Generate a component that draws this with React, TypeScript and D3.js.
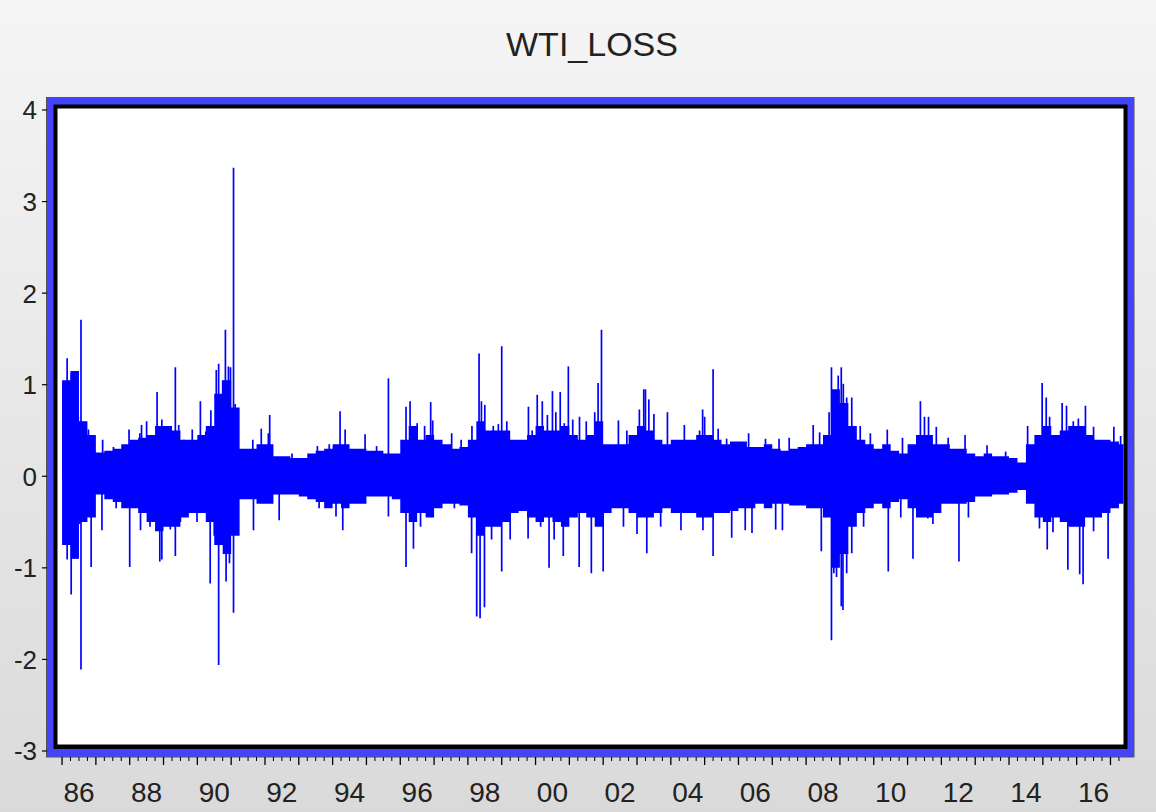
import React from 'react';
import * as d3 from 'd3';

// ---------- data ----------
// dense band envelope, one entry per quarter starting 1986Q1
const bandStartYear = 1986;
const bandStep = 0.25;
const bandHi = [
  1.05, 1.15, 0.60, 0.45, 0.26, 0.28, 0.30, 0.35, 0.40, 0.42, 0.45, 0.55,
  0.55, 0.50, 0.40, 0.40, 0.45, 0.55, 0.90, 1.05, 0.75, 0.30, 0.30, 0.35,
  0.35, 0.22, 0.22, 0.20, 0.20, 0.25, 0.28, 0.30, 0.35, 0.35, 0.30, 0.30,
  0.28, 0.28, 0.25, 0.25, 0.40, 0.55, 0.40, 0.45, 0.40, 0.35, 0.30, 0.32,
  0.40, 0.60, 0.50, 0.50, 0.50, 0.40, 0.40, 0.45, 0.55, 0.50, 0.50, 0.55,
  0.45, 0.40, 0.45, 0.60, 0.35, 0.35, 0.35, 0.45, 0.55, 0.50, 0.40, 0.35,
  0.40, 0.40, 0.40, 0.45, 0.45, 0.40, 0.35, 0.38, 0.38, 0.32, 0.32, 0.35,
  0.30, 0.28, 0.30, 0.32, 0.35, 0.35, 0.45, 0.95, 0.80, 0.55, 0.40, 0.35,
  0.30, 0.35, 0.28, 0.25, 0.35, 0.45, 0.45, 0.35, 0.35, 0.30, 0.30, 0.25,
  0.22, 0.25, 0.22, 0.22, 0.20, 0.15, 0.35, 0.45, 0.55, 0.45, 0.50, 0.55,
  0.55, 0.45, 0.40, 0.40, 0.38, 0.35,
];
const bandLo = [
  -0.75, -0.90, -0.50, -0.45, -0.20, -0.25, -0.28, -0.35, -0.35, -0.40, -0.50, -0.60,
  -0.55, -0.55, -0.45, -0.40, -0.40, -0.50, -0.75, -0.85, -0.65, -0.25, -0.25, -0.30,
  -0.30, -0.20, -0.20, -0.20, -0.22, -0.25, -0.28, -0.35, -0.30, -0.35, -0.30, -0.30,
  -0.22, -0.22, -0.22, -0.25, -0.40, -0.50, -0.40, -0.45, -0.35, -0.30, -0.30, -0.32,
  -0.45, -0.65, -0.55, -0.55, -0.50, -0.40, -0.38, -0.45, -0.50, -0.45, -0.50, -0.55,
  -0.45, -0.40, -0.45, -0.55, -0.40, -0.35, -0.35, -0.40, -0.45, -0.45, -0.40, -0.35,
  -0.40, -0.40, -0.40, -0.45, -0.45, -0.40, -0.40, -0.38, -0.35, -0.35, -0.30, -0.35,
  -0.30, -0.30, -0.32, -0.32, -0.35, -0.35, -0.45, -1.00, -0.85, -0.55, -0.40, -0.35,
  -0.30, -0.35, -0.28, -0.25, -0.35, -0.45, -0.45, -0.40, -0.30, -0.30, -0.30, -0.28,
  -0.22, -0.22, -0.20, -0.20, -0.18, -0.15, -0.30, -0.45, -0.50, -0.45, -0.50, -0.55,
  -0.55, -0.45, -0.45, -0.40, -0.35, -0.30,
];

// isolated spikes: [year, value]
const upperSpikes: [number, number][] = [
  [1986.03, 1.02], [1986.15, 1.29], [1986.27, 1.13], [1986.41, 1.13], [1986.48, 0.65],
  [1986.56, 1.71], [1986.68, 0.56], [1986.78, 0.51], [1986.88, 0.40], [1987.2, 0.40],
  [1987.52, 0.32], [1987.98, 0.51], [1988.3, 0.47], [1988.35, 0.56], [1988.5, 0.60],
  [1988.81, 0.92], [1988.95, 0.62], [1989.06, 0.47], [1989.35, 1.19], [1989.45, 0.56],
  [1989.6, 0.40], [1989.85, 0.51], [1990.09, 0.82], [1990.25, 0.49], [1990.4, 0.72],
  [1990.56, 1.16], [1990.63, 1.23], [1990.75, 1.05], [1990.83, 1.60], [1990.92, 1.20],
  [1990.98, 1.19], [1991.07, 3.37], [1991.12, 0.79], [1991.2, 0.47], [1991.64, 0.40],
  [1991.89, 0.52], [1992.1, 0.47], [1992.14, 0.67], [1992.8, 0.25], [1993.55, 0.33],
  [1993.9, 0.35], [1994.22, 0.71], [1994.37, 0.51], [1994.96, 0.46], [1995.3, 0.33],
  [1995.65, 1.07], [1996.17, 0.76], [1996.29, 0.82], [1996.5, 0.58], [1996.72, 0.55],
  [1996.9, 0.81], [1996.96, 0.61], [1997.52, 0.47], [1997.8, 0.40], [1998.12, 0.55],
  [1998.33, 1.34], [1998.4, 0.82], [1998.5, 0.78], [1998.75, 0.55], [1998.9, 0.57],
  [1999.0, 1.42], [1999.15, 0.60], [1999.79, 0.76], [1999.9, 0.50], [2000.05, 0.89],
  [2000.2, 0.82], [2000.35, 0.67], [2000.5, 0.93], [2000.6, 0.70], [2000.73, 0.92],
  [2000.85, 0.58], [2000.97, 1.20], [2001.1, 0.62], [2001.3, 0.65], [2001.5, 0.60],
  [2001.75, 0.70], [2001.85, 1.02], [2001.95, 1.60], [2002.45, 0.61], [2002.7, 0.50],
  [2003.07, 0.73], [2003.2, 0.95], [2003.25, 0.95], [2003.35, 0.84], [2003.5, 0.68],
  [2003.9, 0.70], [2004.4, 0.56], [2004.85, 0.50], [2004.94, 0.73], [2005.0, 0.65],
  [2005.25, 1.17], [2005.4, 0.52], [2005.65, 0.41], [2006.3, 0.47], [2006.8, 0.41],
  [2007.2, 0.41], [2007.5, 0.42], [2008.21, 0.56], [2008.4, 0.48], [2008.68, 0.70],
  [2008.75, 1.19], [2008.85, 0.91], [2008.95, 1.10], [2009.04, 1.19], [2009.1, 1.01],
  [2009.2, 0.86], [2009.35, 0.86], [2009.6, 0.55], [2009.9, 0.47], [2010.4, 0.51],
  [2010.85, 0.42], [2011.38, 0.82], [2011.5, 0.65], [2011.62, 0.65], [2011.85, 0.54],
  [2012.2, 0.42], [2012.7, 0.45], [2013.35, 0.34], [2013.9, 0.27], [2014.55, 0.55],
  [2014.98, 1.02], [2015.1, 0.86], [2015.2, 0.65], [2015.57, 0.80], [2015.7, 0.77],
  [2015.9, 0.60], [2016.05, 0.63], [2016.26, 0.77], [2016.5, 0.54], [2017.1, 0.54],
  [2017.3, 0.44],
];
const lowerSpikes: [number, number][] = [
  [1986.05, -0.73], [1986.15, -0.91], [1986.27, -1.29], [1986.36, -0.90], [1986.45, -0.90],
  [1986.52, -0.52], [1986.56, -2.11], [1986.62, -0.48], [1986.86, -0.99], [1987.18, -0.59],
  [1987.6, -0.35], [1988.0, -0.99], [1988.32, -0.59], [1988.6, -0.55], [1988.89, -0.93],
  [1988.95, -0.91], [1989.2, -0.58], [1989.35, -0.87], [1989.5, -0.50], [1989.99, -0.50],
  [1990.15, -0.40], [1990.38, -1.17], [1990.5, -0.65], [1990.63, -2.06], [1990.7, -0.73],
  [1990.85, -1.15], [1990.95, -0.95], [1991.07, -1.49], [1991.66, -0.59], [1992.42, -0.48],
  [1993.6, -0.35], [1994.1, -0.44], [1994.3, -0.59], [1995.65, -0.44], [1996.17, -0.99],
  [1996.39, -0.79], [1996.6, -0.55], [1997.6, -0.35], [1998.11, -0.84], [1998.26, -1.53],
  [1998.36, -1.55], [1998.49, -1.43], [1998.7, -0.69], [1999.0, -1.04], [1999.25, -0.69],
  [1999.78, -0.68], [2000.15, -0.55], [2000.4, -1.0], [2000.55, -0.69], [2000.82, -0.87],
  [2001.29, -0.99], [2001.65, -1.06], [2002.0, -1.04], [2002.6, -0.55], [2003.0, -0.63],
  [2003.29, -0.84], [2003.7, -0.55], [2004.3, -0.59], [2004.95, -0.59], [2005.25, -0.87],
  [2005.8, -0.67], [2006.2, -0.59], [2006.4, -0.62], [2007.1, -0.58], [2007.3, -0.59],
  [2008.45, -0.82], [2008.75, -1.79], [2008.82, -1.06], [2008.9, -1.10], [2009.04, -1.42],
  [2009.09, -1.46], [2009.2, -1.06], [2009.35, -0.84], [2009.7, -0.55], [2010.43, -1.04],
  [2010.8, -0.45], [2011.16, -0.90], [2011.6, -0.46], [2011.75, -0.52], [2012.52, -0.93],
  [2012.8, -0.45], [2014.9, -0.57], [2015.13, -0.80], [2015.3, -0.61], [2015.74, -1.02],
  [2016.09, -1.07], [2016.19, -1.18], [2016.5, -0.60], [2016.93, -0.90],
];

const yTicks = [4, 3, 2, 1, 0, -1, -2, -3];
const labelYears = [1986, 1988, 1990, 1992, 1994, 1996, 1998, 2000, 2002, 2004, 2006, 2008, 2010, 2012, 2014, 2016];
const xTickLabels = ['86', '88', '90', '92', '94', '96', '98', '00', '02', '04', '06', '08', '10', '12', '14', '16'];
const title = 'WTI_LOSS';

// ---------- layout ----------
const W = 1156;
const H = 812;
const inner = { x0: 57.5, x1: 1123.5, y0: 108.5, y1: 744.5 };
const xDomain: [number, number] = [1985.88, 2017.385];
const FONT = "'Liberation Sans', Arial, sans-serif";
const BLUE = '#0000ff';

export default function App() {
  const x = d3.scaleLinear().domain(xDomain).range([inner.x0 + 0.5, inner.x1]);
  const y = d3.scaleLinear().domain([-3, 4]).range([751, 110]);

  const pts = bandHi.map((hi, i) => ({ t: bandStartYear + i * bandStep, hi, lo: bandLo[i] }));
  pts.push({ t: xDomain[1] + 0.1, hi: bandHi[bandHi.length - 1], lo: bandLo[bandLo.length - 1] });
  const area = d3
    .area<{ t: number; hi: number; lo: number }>()
    .x((d) => x(d.t))
    .y0((d) => y(d.lo))
    .y1((d) => y(d.hi))
    .curve(d3.curveStepAfter);

  const yearTicks = d3.range(1986, 2018).filter((t) => t <= xDomain[1]);
  const quarterTicks = d3.range(1986, 2017.5, 0.25).filter((t) => t % 1 !== 0 && t <= xDomain[1]);

  const spikes = [...upperSpikes, ...lowerSpikes];

  return (
    <svg width={W} height={H} style={{ position: 'absolute', left: 0, top: 0 }} fontFamily={FONT}>
      <defs>
        <linearGradient id="bg" x1="0" y1="0" x2="0" y2="1">
          <stop offset="0" stopColor="#f5f5f5" />
          <stop offset="1" stopColor="#dadada" />
        </linearGradient>
        <clipPath id="plotClip">
          <rect x={inner.x0} y={inner.y0} width={inner.x1 - inner.x0} height={inner.y1 - inner.y0} />
        </clipPath>
      </defs>
      <rect x={0} y={0} width={W} height={H} fill="url(#bg)" />
      <text x={592} y={56} textAnchor="middle" fontSize={34} fill="#222">{title}</text>

      {/* frame */}
      <rect x={46.5} y={97.5} width={1087.5} height={659.5} fill="#4444ff" stroke="#555" strokeWidth={1} />
      <rect x={53.5} y={104.5} width={1074} height={644.5} fill="#000" />
      <rect x={inner.x0} y={inner.y0} width={inner.x1 - inner.x0} height={inner.y1 - inner.y0} fill="#fff" />

      {/* data */}
      <g clipPath="url(#plotClip)">
        <path d={area(pts) || ''} fill={BLUE} />
        {spikes.map(([t, v], i) => (
          <line key={'s' + i} x1={x(t)} x2={x(t)} y1={y(0)} y2={y(v)} stroke={BLUE} strokeWidth={1.7} />
        ))}
      </g>

      {/* y axis */}
      {yTicks.map((v) => (
        <g key={'y' + v}>
          <line x1={42} x2={47} y1={y(v)} y2={y(v)} stroke="#000" strokeWidth={1.2} />
          <text x={37} y={y(v)} dy="0.36em" textAnchor="end" fontSize={26} fill="#222">{v}</text>
        </g>
      ))}

      {/* x axis */}
      {yearTicks.map((t) => (
        <line key={'yt' + t} x1={x(t)} x2={x(t)} y1={757} y2={765} stroke="#000" strokeWidth={1.3} />
      ))}
      {quarterTicks.map((t) => (
        <line key={'qt' + t} x1={x(t)} x2={x(t)} y1={757} y2={761} stroke="#000" strokeWidth={1} />
      ))}
      {labelYears.map((t, i) => (
        <text key={'xl' + t} x={x(t + 0.5)} y={802} textAnchor="middle" fontSize={28} fill="#222">{xTickLabels[i]}</text>
      ))}
    </svg>
  );
}
